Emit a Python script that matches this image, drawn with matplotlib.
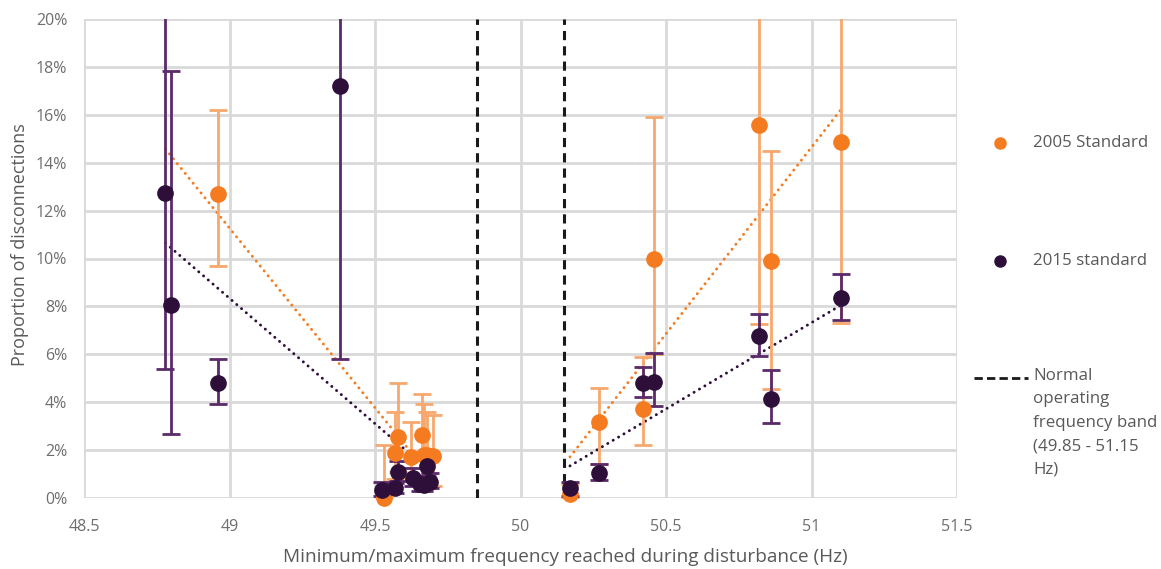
import matplotlib.pyplot as plt
import numpy as np
from matplotlib.lines import Line2D
from matplotlib.ticker import FuncFormatter

plt.rcParams['font.family'] = ['Open Sans', 'DejaVu Sans']

# 2005 standard (values in %)
freq_2005 = [48.96, 49.53, 49.57, 49.58, 49.625, 49.66, 49.67, 49.68, 49.70,
             50.17, 50.27, 50.42, 50.46, 50.82, 50.86, 51.10]
val_2005 = [12.69, 0.0, 1.87, 2.56, 1.70, 2.63, 1.80, 1.78, 1.75,
            0.15, 3.17, 3.70, 10.0, 15.56, 9.90, 14.85]
lo_2005 = [9.70, 0.0, 0.8, 1.1, 0.8, 0.9, 0.6, 0.6, 0.5,
           0.0, 1.4, 2.21, 6.0, 7.28, 4.56, 7.29]
hi_2005 = [16.19, 2.2, 3.59, 4.79, 3.17, 4.33, 3.91, 3.6, 3.45,
           0.6, 4.58, 5.9, 15.9, 30.0, 14.5, 30.0]

# 2015 standard (values in %)
freq_2015 = [48.78, 48.80, 48.96, 49.38, 49.525, 49.57, 49.58, 49.63, 49.655, 49.67, 49.68, 49.69,
             50.17, 50.27, 50.42, 50.46, 50.82, 50.86, 51.10]
val_2015 = [12.72, 8.06, 4.81, 17.22, 0.33, 0.40, 1.07, 0.82, 0.57, 0.54, 1.34, 0.68,
            0.40, 1.04, 4.80, 4.85, 6.78, 4.12, 8.36]
lo_2015 = [5.37, 2.66, 3.91, 5.80, 0.1, 0.2, 0.7, 0.5, 0.3, 0.3, 0.9, 0.4,
           0.1, 0.75, 4.2, 3.86, 5.92, 3.12, 7.43]
hi_2015 = [30.0, 17.84, 5.80, 30.0, 0.65, 0.64, 1.54, 1.24, 0.9, 0.9, 1.7, 1.06,
           0.68, 1.4, 5.49, 6.07, 7.70, 5.33, 9.35]

band = [49.85, 50.15]

orange = '#F47B20'
orange_err = '#F6A86E'
purple = '#2D0F3A'
purple_err = '#5A2A6A'
grey_text = '#595959'
tick_text = '#6E6E6E'

W, H = 1161, 569
fig = plt.figure(figsize=(W / 100, H / 100), dpi=100)
ax = fig.add_axes([84 / W, 1 - 498 / H, (957 - 84) / W, (498 - 19) / H])


def draw(freq, val, lo, hi, col, ecol):
    f = np.array(freq)
    v = np.array(val) / 100
    yerr = [v - np.array(lo) / 100, np.array(hi) / 100 - v]
    ax.errorbar(f, v, yerr=yerr, fmt='none', ecolor=ecol, elinewidth=2,
                capsize=6.5, capthick=2, zorder=3)
    ax.plot(f, v, 'o', color=col, ms=11, zorder=4, clip_on=False)


def trend(freq, val, xs_all, col):
    # linear fit on each side of the normal band, drawn over all event frequencies on that side
    f = np.array(freq)
    v = np.array(val) / 100
    for below in (True, False):
        m = (f < 50) if below else (f > 50)
        k, b = np.polyfit(f[m], v[m], 1)
        xr = xs_all[xs_all < 50] if below else xs_all[xs_all > 50]
        xx = np.linspace(xr.min(), xr.max(), 2)
        ax.plot(xx, k * xx + b, color=col, lw=2.1, linestyle=(0, (0.05, 2.1)),
                dash_capstyle='round', zorder=2)


all_freq = np.array(sorted(set(freq_2005) | set(freq_2015)))
trend(freq_2005, val_2005, all_freq, orange)
trend(freq_2015, val_2015, all_freq, purple)

draw(freq_2005, val_2005, lo_2005, hi_2005, orange, orange_err)
draw(freq_2015, val_2015, lo_2015, hi_2015, purple, purple_err)

for b in band:
    ax.axvline(b, color='#1a1a1a', lw=2.2, linestyle=(0, (3, 2)), zorder=2)

ax.set_xlim(48.5, 51.5)
ax.set_ylim(0, 0.2)
ax.set_xticks(np.arange(48.5, 51.51, 0.5))
ax.set_yticks(np.arange(0, 0.201, 0.02))
ax.xaxis.set_major_formatter(FuncFormatter(lambda x, p: f'{x:g}'))
ax.yaxis.set_major_formatter(FuncFormatter(lambda y, p: f'{y * 100:.0f}%'))
ax.grid(True, color='#D9D9D9', lw=2)
ax.set_axisbelow(True)
for s in ax.spines.values():
    s.set_visible(False)
ax.tick_params(length=0, labelsize=11.5, labelcolor=tick_text)
ax.tick_params(axis='x', pad=15)
ax.tick_params(axis='y', pad=12)

fig.text(20 / W, 1 - 245 / H, 'Proportion of disconnections', fontsize=13,
         color=grey_text, rotation=90, ha='center', va='center')
fig.text(565 / W, 1 - 557 / H, 'Minimum/maximum frequency reached during disturbance (Hz)',
         fontsize=13.7, color=grey_text, ha='center', va='center')

# legend, drawn by hand on the right
fig.add_artist(Line2D([1000 / W], [1 - 143 / H], marker='o', color=orange, ms=8,
                      transform=fig.transFigure))
fig.text(1033 / W, 1 - 143 / H, '2005 Standard', fontsize=12.2, color=grey_text, va='center')
fig.add_artist(Line2D([1000 / W], [1 - 261 / H], marker='o', color=purple, ms=8,
                      transform=fig.transFigure))
fig.text(1033 / W, 1 - 261 / H, '2015 standard', fontsize=12.2, color=grey_text, va='center')
fig.add_artist(Line2D([974 / W, 1028 / W], [1 - 378 / H, 1 - 378 / H], color='#1a1a1a',
                      lw=2, linestyle=(0, (3, 1.5)), transform=fig.transFigure))
fig.text(1033 / W, 1 - 368 / H, 'Normal\noperating\nfrequency band\n(49.85 - 51.15\nHz)',
         fontsize=12.2, color=grey_text, va='top', linespacing=1.62)

fig.savefig('out.png', dpi=100)
